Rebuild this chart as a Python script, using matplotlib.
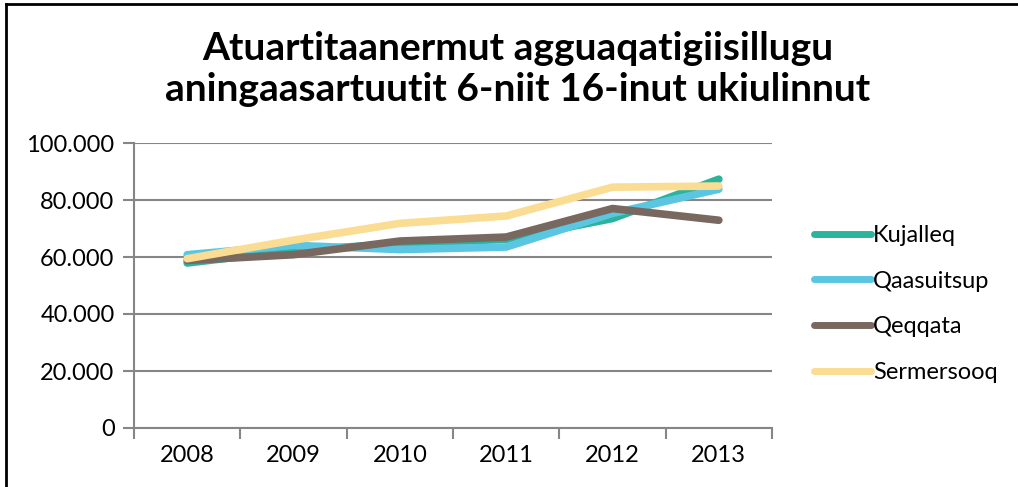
import matplotlib
matplotlib.use("Agg")
import matplotlib.pyplot as plt
from matplotlib.lines import Line2D
from matplotlib.ticker import FuncFormatter, FixedLocator

years = ["2008", "2009", "2010", "2011", "2012", "2013"]
kujalleq = [57900, 62300, 64700, 66200, 73500, 87300]
qaasuitsup = [60800, 64100, 62600, 63500, 75300, 83800]
qeqqata = [58800, 60800, 65600, 67000, 77000, 72900]
sermersooq = [59400, 65900, 71800, 74400, 84500, 84900]
series_names = ["Kujalleq", "Qaasuitsup", "Qeqqata", "Sermersooq"]
colors = ["#2BB39C", "#5BC6E2", "#786860", "#FADD92"]
title = "Atuartitaanermut agguaqatigiisillugu\naningaasartuutit 6-niit 16-inut ukiulinnut"

plt.rcParams['font.family'] = ['Lato', 'DejaVu Sans']

fig = plt.figure(figsize=(10.18, 4.87), dpi=100)
W, H = 1018, 487
ax = fig.add_axes([134 / W, 1 - 428 / H, (772 - 134) / W, (428 - 143) / H])

x = list(range(len(years)))
for vals, name, c in zip([kujalleq, qaasuitsup, qeqqata, sermersooq], series_names, colors):
    ax.plot(x, vals, color=c, lw=5.5, solid_capstyle='round', solid_joinstyle='round', label=name)

ax.set_xlim(-0.5, len(years) - 0.5)
ax.set_ylim(0, 100000)
ax.set_yticks([0, 20000, 40000, 60000, 80000, 100000])
ax.yaxis.set_major_formatter(FuncFormatter(lambda v, p: "0" if v == 0 else f"{int(v):,}".replace(",", ".")))
ax.set_xticks(x)
ax.set_xticklabels(years)
ax.xaxis.set_minor_locator(FixedLocator([i - 0.5 for i in range(len(years) + 1)]))
ax.tick_params(axis='x', which='major', length=0, labelsize=17, pad=12, colors='black')
ax.tick_params(axis='x', which='minor', length=8, width=1.5, color='#868686')
ax.tick_params(axis='y', length=8, width=1.5, color='#868686', labelsize=17, pad=6, labelcolor='black')
ax.grid(axis='y', color='#868686', lw=1.5)
ax.set_axisbelow(True)
for s in ['top', 'right']:
    ax.spines[s].set_visible(False)
for s in ['left', 'bottom']:
    ax.spines[s].set_color('#868686')
    ax.spines[s].set_linewidth(1.5)

fig.text(518 / W, 1 - 69 / H, title, ha='center', va='center', fontsize=28,
         fontweight='bold', linespacing=1.2)

handles, labels = ax.get_legend_handles_labels()
leg = fig.legend(handles, labels, loc='center left', bbox_to_anchor=(793 / W, 1 - 304 / H),
                 frameon=False, fontsize=17, handlelength=2.4, handletextpad=0.1,
                 labelspacing=1.05)
for lh in leg.get_lines():
    lh.set_linewidth(5)
    lh.set_solid_capstyle('round')

# frame lines
fig.add_artist(Line2D([6 / W, 6 / W], [0, 1 - 3.5 / H], color='black', lw=2, transform=fig.transFigure))
fig.add_artist(Line2D([6 / W, 1], [1 - 3.5 / H, 1 - 3.5 / H], color='black', lw=2, transform=fig.transFigure))

fig.savefig("out.png", dpi=100)
